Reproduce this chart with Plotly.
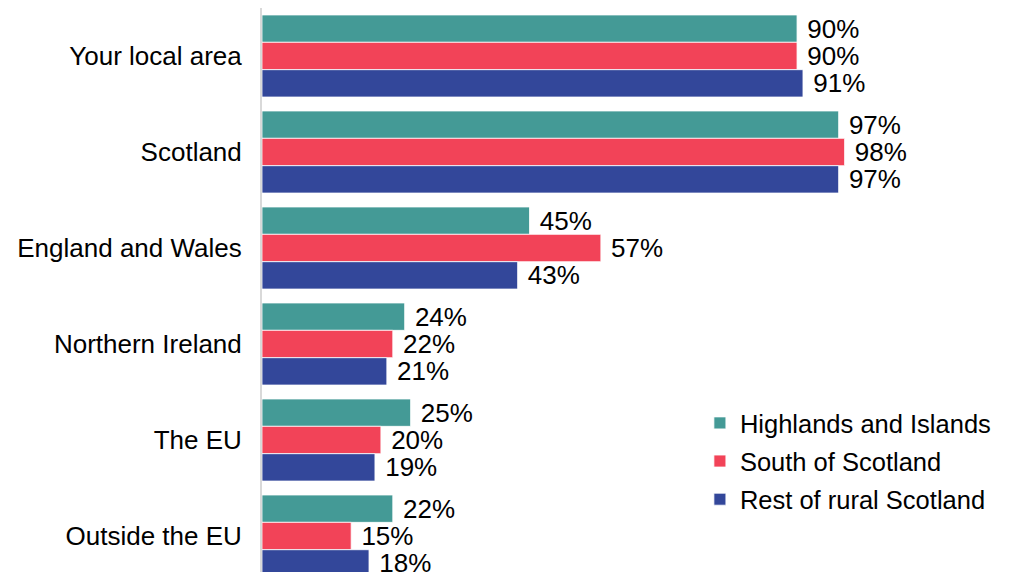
import plotly.graph_objects as go

categories = ["Your local area", "Scotland", "England and Wales",
              "Northern Ireland", "The EU", "Outside the EU"]
series_names = ["Highlands and Islands", "South of Scotland", "Rest of rural Scotland"]
highlands = [90, 97, 45, 24, 25, 22]
south = [90, 98, 57, 22, 20, 15]
rest = [91, 97, 43, 21, 19, 18]
colours = ["#449A96", "#F24358", "#33479A"]

fig = go.Figure()
for name, vals, col in zip(series_names, [highlands, south, rest], colours):
    fig.add_trace(go.Bar(
        y=categories, x=vals, name=name, orientation="h", legendgroup=name,
        marker=dict(color=col, line=dict(color="white", width=0.8)),
        text=[" " + str(v) + "%" for v in vals], textposition="outside",
        constraintext="none",
        textfont=dict(size=26, color="#000000"), cliponaxis=False,
    ))

# page has an 8px body margin, so margins are shifted by 8px
fig.update_layout(
    width=1009, height=572,
    barmode="group", bargap=0.145, bargroupgap=0,
    plot_bgcolor="white", paper_bgcolor="white",
    font=dict(family="Liberation Sans, Arial, sans-serif", size=26, color="#000000"),
    margin=dict(l=254, r=0, t=0, b=0, autoexpand=False),
    xaxis=dict(range=[0, 127.0], visible=False, showgrid=False, automargin=False),
    yaxis=dict(type="category", range=[5.458, -0.5], showgrid=False,
               showline=True, linecolor="#D9D9D9", linewidth=2,
               ticks="", ticklabelstandoff=13, automargin=False),
    legend=dict(x=0.580, xanchor="left", y=0.315, yanchor="top",
                font=dict(size=25.5), tracegroupgap=2, itemwidth=30,
                bgcolor="rgba(0,0,0,0)"),
    showlegend=True,
)

fig.write_html("out.html")
